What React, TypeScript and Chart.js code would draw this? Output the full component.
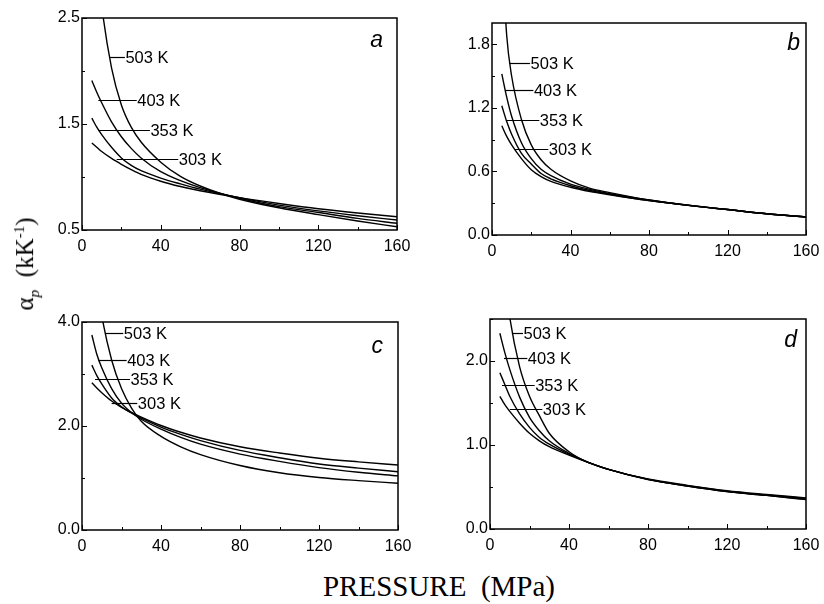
import React, { useEffect, useRef } from 'react';
import { Chart, registerables } from 'chart.js';

Chart.register(...registerables);

// ---------- data ----------
const PRESSURE = [5, 7.5, 10, 15, 20, 25, 30, 40, 50, 60, 80, 100, 120, 140, 160];
const SERIES_NAMES = ['503 K', '403 K', '353 K', '303 K'];

// panel a
const A_503 = [3.9, 3.1, 2.62, 2.03, 1.68, 1.47, 1.33, 1.14, 1.005, 0.915, 0.79, 0.71, 0.645, 0.585, 0.53];
const A_403 = [1.91, 1.8, 1.7, 1.52, 1.38, 1.27, 1.18, 1.05, 0.965, 0.9, 0.8, 0.72, 0.665, 0.61, 0.563];
const A_353 = [1.555, 1.47, 1.4, 1.28, 1.18, 1.11, 1.06, 0.99, 0.935, 0.885, 0.805, 0.735, 0.68, 0.635, 0.594];
const A_303 = [1.32, 1.28, 1.24, 1.175, 1.12, 1.07, 1.025, 0.96, 0.91, 0.87, 0.805, 0.75, 0.7, 0.66, 0.625];

// panel b
const B_503 = [2.7, 1.88, 1.5, 1.09, 0.85, 0.71, 0.62, 0.51, 0.44, 0.4, 0.33, 0.28, 0.24, 0.2, 0.17];
const B_403 = [1.52, 1.3, 1.12, 0.87, 0.72, 0.62, 0.56, 0.48, 0.43, 0.39, 0.33, 0.28, 0.24, 0.2, 0.17];
const B_353 = [1.22, 1.07, 0.95, 0.77, 0.67, 0.58, 0.53, 0.465, 0.42, 0.385, 0.325, 0.28, 0.24, 0.2, 0.17];
const B_303 = [1.03, 0.93, 0.85, 0.72, 0.615, 0.55, 0.505, 0.45, 0.41, 0.38, 0.325, 0.28, 0.24, 0.2, 0.17];

// panel c
const C_503 = [5.6, 4.75, 4.12, 3.27, 2.72, 2.35, 2.09, 1.8, 1.6, 1.45, 1.24, 1.1, 1.01, 0.95, 0.9];
const C_403 = [3.75, 3.38, 3.12, 2.72, 2.44, 2.26, 2.13, 1.94, 1.78, 1.65, 1.46, 1.32, 1.2, 1.11, 1.04];
const C_353 = [3.17, 2.97, 2.81, 2.54, 2.37, 2.25, 2.15, 1.98, 1.84, 1.72, 1.53, 1.39, 1.27, 1.19, 1.12];
const C_303 = [2.83, 2.73, 2.64, 2.48, 2.36, 2.26, 2.17, 2.01, 1.88, 1.77, 1.6, 1.48, 1.38, 1.31, 1.25];

// panel d
const D_503 = [3.6, 3.0, 2.52, 1.93, 1.58, 1.35, 1.14, 0.92, 0.79, 0.71, 0.59, 0.51, 0.445, 0.4, 0.35];
const D_403 = [2.33, 2.1, 1.9, 1.57, 1.33, 1.17, 1.05, 0.9, 0.79, 0.71, 0.59, 0.51, 0.445, 0.4, 0.355];
const D_353 = [1.86, 1.72, 1.58, 1.37, 1.21, 1.09, 1.01, 0.89, 0.79, 0.71, 0.59, 0.515, 0.45, 0.405, 0.365];
const D_303 = [1.58, 1.48, 1.4, 1.26, 1.14, 1.05, 0.98, 0.88, 0.79, 0.71, 0.595, 0.52, 0.455, 0.41, 0.37];

// tick values
const X_TICKS = [0, 20, 40, 60, 80, 100, 120, 140, 160];
const X_LABELS = [0, 40, 80, 120, 160];
const A_Y_TICKS = [0.5, 1.0, 1.5, 2.0, 2.5];
const A_Y_LABELS = [0.5, 1.5, 2.5];
const B_Y_TICKS = [0, 0.3, 0.6, 0.9, 1.2, 1.5, 1.8];
const B_Y_LABELS = [0, 0.6, 1.2, 1.8];
const C_Y_TICKS = [0, 1, 2, 3, 4];
const C_Y_LABELS = [0, 2, 4];
const D_Y_TICKS = [0, 0.5, 1.0, 1.5, 2.0, 2.5];
const D_Y_LABELS = [0, 1, 2];

// label leader lines: [value on y, start pressure, end pressure] per series name
const A_NOTES = [[2.135, 13.9, 21.8], [1.726, 8.3, 27.8], [1.443, 8.3, 34.5], [1.17, 17.6, 48.9]];
const B_NOTES = [[1.625, 8.8, 19.4], [1.368, 6.6, 21.1], [1.085, 7.1, 24.1], [0.808, 11.7, 28.7]];
const C_NOTES = [[3.78, 11.6, 20.9], [3.27, 8.3, 22.6], [2.9, 6.6, 24.3], [2.45, 15.0, 28.0]];
const D_NOTES = [[2.33, 11.1, 16.7], [2.04, 7.1, 18.9], [1.72, 6.1, 22.6], [1.43, 10.0, 26.5]];

// ---------- layout ----------
const SANS = '"Liberation Sans", Arial, Helvetica, sans-serif';
const SERIF = '"Liberation Serif", "Times New Roman", Times, serif';
const M = { l: 50, t: 14, r: 18, b: 32 };

type PanelDef = {
  key: string;
  letter: string;
  plot: { l: number; t: number; r: number; b: number };
  yMin: number;
  yMax: number;
  yTicks: number[];
  yLabels: number[];
  series: number[][];
  notes: number[][];
  letterDx: number;
  letterDy: number;
};

const PANELS: PanelDef[] = [
  { key: 'a', letter: 'a', plot: { l: 82, t: 18, r: 397, b: 230 }, yMin: 0.5, yMax: 2.5, yTicks: A_Y_TICKS, yLabels: A_Y_LABELS, series: [A_503, A_403, A_353, A_303], notes: A_NOTES, letterDx: 14, letterDy: 29 },
  { key: 'b', letter: 'b', plot: { l: 492, t: 23, r: 806, b: 235 }, yMin: 0, yMax: 2.0, yTicks: B_Y_TICKS, yLabels: B_Y_LABELS, series: [B_503, B_403, B_353, B_303], notes: B_NOTES, letterDx: 6, letterDy: 27 },
  { key: 'c', letter: 'c', plot: { l: 82, t: 322, r: 398, b: 530 }, yMin: 0, yMax: 4.0, yTicks: C_Y_TICKS, yLabels: C_Y_LABELS, series: [C_503, C_403, C_353, C_303], notes: C_NOTES, letterDx: 15, letterDy: 31 },
  { key: 'd', letter: 'd', plot: { l: 490, t: 319, r: 806, b: 529 }, yMin: 0, yMax: 2.5, yTicks: D_Y_TICKS, yLabels: D_Y_LABELS, series: [D_503, D_403, D_353, D_303], notes: D_NOTES, letterDx: 9, letterDy: 28 },
];

const near = (a: number, b: number) => Math.abs(a - b) < 1e-6;

const framePlugin = {
  id: 'frame',
  afterDraw(chart: any, _args: any, opts: any) {
    const { ctx, chartArea: ca, scales } = chart;
    const xs = scales.x;
    const ys = scales.y;
    ctx.save();
    ctx.strokeStyle = '#000';
    ctx.fillStyle = '#000';
    ctx.lineWidth = 1.5;
    ctx.strokeRect(ca.left, ca.top, ca.right - ca.left, ca.bottom - ca.top);
    ctx.lineWidth = 1;
    const seg = (x0: number, y0: number, x1: number, y1: number) => {
      ctx.beginPath();
      ctx.moveTo(x0, y0);
      ctx.lineTo(x1, y1);
      ctx.stroke();
    };
    xs.ticks.forEach((t: any) => {
      const px = Math.round(xs.getPixelForValue(t.value)) + 0.5;
      const len = X_LABELS.some((v) => near(v, t.value)) ? 5 : 3;
      seg(px, ca.bottom, px, ca.bottom - len);
    });
    ys.ticks.forEach((t: any) => {
      const py = Math.round(ys.getPixelForValue(t.value)) + 0.5;
      const len = opts.yLabels.some((v: number) => near(v, t.value)) ? 5 : 3;
      seg(ca.left, py, ca.left + len, py);
    });
    ctx.font = '16.5px ' + SANS;
    ctx.textAlign = 'left';
    ctx.textBaseline = 'middle';
    opts.notes.forEach((n: number[], i: number) => {
      const y = Math.round(ys.getPixelForValue(n[0])) + 0.5;
      const x0 = xs.getPixelForValue(n[1]);
      const x1 = xs.getPixelForValue(n[2]);
      ctx.lineWidth = 1.2;
      seg(x0, y, x1, y);
      ctx.fillText(SERIES_NAMES[i], x1 + 0.5, y + 1);
    });
    ctx.font = 'italic 23px ' + SANS;
    ctx.textAlign = 'right';
    ctx.textBaseline = 'alphabetic';
    ctx.fillText(opts.letter, ca.right - opts.letterDx, ca.top + opts.letterDy);
    ctx.restore();
  },
};

function PanelChart({ p }: { p: PanelDef }) {
  const ref = useRef<HTMLCanvasElement | null>(null);
  const W = p.plot.r - p.plot.l + M.l + M.r;
  const H = p.plot.b - p.plot.t + M.t + M.b;

  useEffect(() => {
    if (!ref.current) return;
    const chart = new Chart(ref.current, {
      type: 'line',
      data: {
        datasets: p.series.map((arr, i) => ({
          label: SERIES_NAMES[i],
          data: PRESSURE.map((x, j) => ({ x, y: arr[j] })),
          borderColor: '#000',
          borderWidth: 1.4,
          pointRadius: 0,
          fill: false,
          cubicInterpolationMode: 'monotone' as const,
        })),
      },
      options: {
        animation: false,
        responsive: false,
        devicePixelRatio: 1,
        events: [],
        layout: { padding: { left: 0, top: M.t, right: M.r, bottom: 0 } },
        plugins: {
          legend: { display: false },
          tooltip: { enabled: false },
          title: { display: false },
          frame: { notes: p.notes, letter: p.letter, letterDx: p.letterDx, letterDy: p.letterDy, yLabels: p.yLabels },
        } as any,
        scales: {
          x: {
            type: 'linear',
            min: 0,
            max: 160,
            grid: { display: false, drawTicks: false },
            border: { display: false },
            afterBuildTicks: (s: any) => {
              s.ticks = X_TICKS.map((value) => ({ value }));
            },
            afterFit: (s: any) => {
              s.height = M.b;
              s.paddingLeft = 0;
              s.paddingRight = 0;
            },
            ticks: {
              autoSkip: false,
              maxRotation: 0,
              padding: 7,
              color: '#000',
              font: { size: 16, family: SANS },
              callback: (v: any) => (X_LABELS.some((t) => near(t, Number(v))) ? String(v) : ''),
            },
          },
          y: {
            type: 'linear',
            min: p.yMin,
            max: p.yMax,
            grid: { display: false, drawTicks: false },
            border: { display: false },
            afterBuildTicks: (s: any) => {
              s.ticks = p.yTicks.map((value) => ({ value }));
            },
            afterFit: (s: any) => {
              s.width = M.l;
              s.paddingTop = 0;
              s.paddingBottom = 0;
            },
            ticks: {
              autoSkip: false,
              padding: 2,
              color: '#000',
              font: { size: 16, family: SANS },
              callback: (v: any) => (p.yLabels.some((t) => near(t, Number(v))) ? Number(v).toFixed(1) : ''),
            },
          },
        },
      } as any,
      plugins: [framePlugin],
    });
    return () => chart.destroy();
  }, [p]);

  return (
    <canvas
      ref={ref}
      width={W}
      height={H}
      style={{ position: 'absolute', left: p.plot.l - M.l, top: p.plot.t - M.t, width: W, height: H }}
    />
  );
}

export default function App() {
  return (
    <div style={{ position: 'fixed', left: 0, top: 0, width: 824, height: 604, background: '#fff', overflow: 'hidden' }}>
      {PANELS.map((p) => (
        <PanelChart key={p.key} p={p} />
      ))}
      <div
        style={{
          position: 'absolute',
          left: 27,
          top: 264,
          transform: 'translate(-50%, -50%) rotate(-90deg)',
          fontFamily: SERIF,
          fontSize: 25,
          lineHeight: 1,
          whiteSpace: 'pre',
          color: '#000',
        }}
      >
        <span>α</span>
        <sub style={{ fontSize: '0.62em', fontStyle: 'italic' }}>p</sub>
        {'  (kK'}
        <sup style={{ fontSize: '0.6em' }}>-1</sup>
        {')'}
      </div>
      <div
        style={{
          position: 'absolute',
          left: 439,
          top: 586,
          transform: 'translate(-50%, -50%)',
          fontFamily: SERIF,
          fontSize: 29,
          lineHeight: 1,
          whiteSpace: 'pre',
          color: '#000',
        }}
      >
        {'PRESSURE  (MPa)'}
      </div>
    </div>
  );
}
